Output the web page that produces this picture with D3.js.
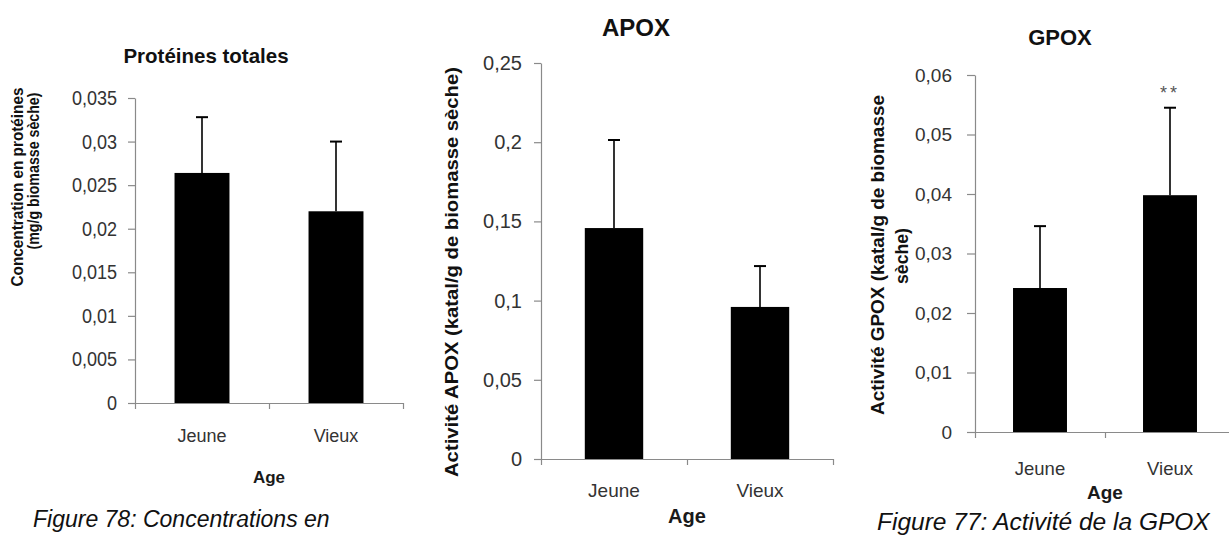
<!DOCTYPE html>
<html>
<head>
<meta charset="utf-8">
<script src="https://cdn.jsdelivr.net/npm/d3@7/dist/d3.min.js"></script>
<style>
  html, body { margin: 0; padding: 0; background: #fff; }
  svg { display: block; }
  text { font-family: "Liberation Sans", Arial, sans-serif; }
</style>
</head>
<body>
<svg id="chart" width="1229" height="536"></svg>
<script>
// ---------- DATA ----------
const categories = ["Jeune", "Vieux"];

const proteinMeans  = [0.0264, 0.0220];
const proteinErrors = [0.0064, 0.0080];
const proteinTicks  = [0, 0.005, 0.01, 0.015, 0.02, 0.025, 0.03, 0.035];
const proteinTickLabels = ["0", "0,005", "0,01", "0,015", "0,02", "0,025", "0,03", "0,035"];

const apoxMeans  = [0.1458, 0.0960];
const apoxErrors = [0.0556, 0.0258];
const apoxTicks  = [0, 0.05, 0.1, 0.15, 0.2, 0.25];
const apoxTickLabels = ["0", "0,05", "0,1", "0,15", "0,2", "0,25"];

const gpoxMeans  = [0.0242, 0.0398];
const gpoxErrors = [0.0104, 0.0147];
const gpoxTicks  = [0, 0.01, 0.02, 0.03, 0.04, 0.05, 0.06];
const gpoxTickLabels = ["0", "0,01", "0,02", "0,03", "0,04", "0,05", "0,06"];
const gpoxSignificance = ["", "**"];

const xAxisTitle = "Age";
const captionLeft = "Figure 78: Concentrations en";
const captionRight = "Figure 77: Activité de la GPOX";

// ---------- DRAW ----------
const svg = d3.select("#chart");

function panel(o) {
  const g = svg.append("g");
  const y = d3.scaleLinear().domain([0, o.max]).range([o.y0, o.y1]);
  const x = d3.scaleBand().domain(categories).range([o.x0, o.x1])
    .paddingInner(o.pad).paddingOuter(o.pad / 2);

  // y axis
  const gy = g.append("g").attr("transform", `translate(${o.x0},0)`)
    .call(d3.axisLeft(y).tickValues(o.ticks).tickFormat((d, i) => o.labels[i])
      .tickSize(o.tick).tickSizeOuter(0).tickPadding(o.tpad));
  gy.selectAll("path.domain, line").attr("stroke", "#8a8a8a").attr("stroke-width", 1.2);
  gy.selectAll("text").attr("font-size", o.tickFont).attr("fill", "#333")
    .attr("font-family", '"Liberation Sans", Arial, sans-serif');
  if (o.sx !== 1) {
    gy.selectAll("text").attr("transform", `scale(${o.sx},1)`)
      .attr("x", -(o.tick + o.tpad) / o.sx);
  }

  // x axis (ticks at category boundaries)
  const xl = d3.scaleLinear().domain([0, categories.length]).range([o.x0, o.x1]);
  const gx = g.append("g").attr("transform", `translate(0,${o.y0})`)
    .call(d3.axisBottom(xl).tickValues(d3.range(categories.length + 1))
      .tickSize(6).tickSizeOuter(0).tickFormat(""));
  gx.selectAll("path.domain, line").attr("stroke", "#8a8a8a").attr("stroke-width", 1.2);

  // bars
  g.selectAll("rect.bar").data(o.means).join("rect")
    .attr("x", (d, i) => x(categories[i]))
    .attr("width", x.bandwidth())
    .attr("y", d => y(d))
    .attr("height", d => y(0) - y(d))
    .attr("fill", "#000");

  // error bars (upper)
  o.means.forEach((m, i) => {
    const cx = x(categories[i]) + x.bandwidth() / 2;
    g.append("line").attr("x1", cx).attr("x2", cx)
      .attr("y1", y(m)).attr("y2", y(m + o.errs[i]))
      .attr("stroke", "#000").attr("stroke-width", 1.6);
    g.append("line").attr("x1", cx - 6).attr("x2", cx + 6)
      .attr("y1", y(m + o.errs[i])).attr("y2", y(m + o.errs[i]))
      .attr("stroke", "#000").attr("stroke-width", 2);
  });

  // category labels
  categories.forEach((c, i) => {
    g.append("text").attr("x", x(c) + x.bandwidth() / 2).attr("y", o.catY)
      .attr("text-anchor", "middle").attr("font-size", o.catFont).attr("fill", "#333")
      .text(c);
  });
  // x axis title
  g.append("text").attr("x", xl(1)).attr("y", o.ageY)
    .attr("text-anchor", "middle").attr("font-size", o.ageFont)
    .attr("font-weight", "bold").attr("fill", "#1a1a1a").text(xAxisTitle);

  // title
  g.append("text").attr("x", o.titleX).attr("y", o.titleY)
    .attr("text-anchor", "middle").attr("font-size", o.titleFont)
    .attr("font-weight", "bold").attr("fill", "#111").text(o.title);

  // y labels
  o.ylabels.forEach(l => {
    g.append("text")
      .attr("transform", `translate(${l.x},${l.y}) rotate(-90)`)
      .attr("text-anchor", "middle").attr("dominant-baseline", "central")
      .attr("font-size", l.size).attr("font-weight", "bold").attr("fill", "#111")
      .attr("textLength", l.len).attr("lengthAdjust", "spacingAndGlyphs")
      .text(l.text);
  });

  if (o.signif) {
    o.signif.forEach((s, i) => {
      if (!s) return;
      const cx = x(categories[i]) + x.bandwidth() / 2;
      g.append("text").attr("x", cx).attr("y", o.signifY)
        .attr("text-anchor", "middle").attr("font-size", 18).attr("fill", "#555")
        .attr("letter-spacing", 3).text(s);
    });
  }
  return { x, y };
}

panel({
  max: 0.035, y0: 403, y1: 98, x0: 135, x1: 403, pad: 0.59,
  ticks: proteinTicks, labels: proteinTickLabels, tick: 7, tpad: 11, tickFont: 20.5, sx: 0.88,
  means: proteinMeans, errs: proteinErrors,
  catY: 442, catFont: 18, ageY: 483, ageFont: 17,
  title: "Protéines totales", titleX: 206, titleY: 63, titleFont: 20.5,
  ylabels: [
    { text: "Concentration en protéines", x: 17, y: 187, size: 16.5, len: 199 },
    { text: "(mg/g biomasse sèche)", x: 33, y: 171, size: 16.5, len: 157 }
  ]
});

panel({
  max: 0.25, y0: 459, y1: 63, x0: 541, x1: 833, pad: 0.6,
  ticks: apoxTicks, labels: apoxTickLabels, tick: 7, tpad: 12, tickFont: 20, sx: 1,
  means: apoxMeans, errs: apoxErrors,
  catY: 497, catFont: 19, ageY: 523, ageFont: 20,
  title: "APOX", titleX: 636, titleY: 36, titleFont: 24,
  ylabels: [
    { text: "Activité APOX (katal/g de biomasse sèche)", x: 451, y: 272, size: 19, len: 410 }
  ]
});

panel({
  max: 0.06, y0: 432, y1: 75, x0: 975, x1: 1235, pad: 0.585,
  ticks: gpoxTicks, labels: gpoxTickLabels, tick: 8, tpad: 15, tickFont: 19, sx: 1,
  means: gpoxMeans, errs: gpoxErrors,
  catY: 475, catFont: 18.5, ageY: 499, ageFont: 19,
  title: "GPOX", titleX: 1060, titleY: 45, titleFont: 22,
  ylabels: [
    { text: "Activité GPOX (katal/g de biomasse", x: 878, y: 255, size: 17.5, len: 320 },
    { text: "sèche)", x: 902, y: 256, size: 17.5, len: 56 }
  ],
  signif: gpoxSignificance, signifY: 99
});

// captions
svg.append("text").attr("x", 33).attr("y", 527).attr("font-size", 23)
  .attr("font-style", "italic").attr("fill", "#111").text(captionLeft);
svg.append("text").attr("x", 877).attr("y", 530).attr("font-size", 24.5)
  .attr("font-style", "italic").attr("fill", "#111").text(captionRight);
</script>
</body>
</html>
